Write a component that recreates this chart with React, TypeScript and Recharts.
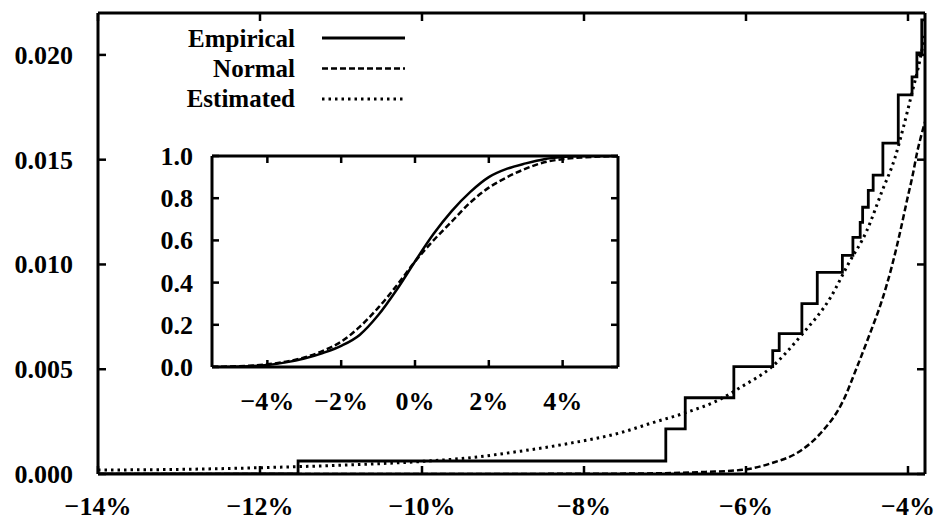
import React from 'react';
import { ComposedChart, LineChart, Line, XAxis, YAxis } from 'recharts';

const FONT = "'Liberation Serif', 'Times New Roman', serif";
const FS = 26;

// ---------- main chart ----------
const mainXTicks = [-14, -12, -10, -8, -6, -4];
const mainYTicks = [0, 0.005, 0.01, 0.015, 0.02];
const mainXDomain = [-14, -3.79];
const mainYDomain = [0, 0.022];

// Empirical (step function, left tail)
const empX = [-14, -11.53, -6.99, -6.75, -6.15, -5.67, -5.59, -5.31, -5.12, -4.81, -4.68, -4.59, -4.56, -4.49, -4.43, -4.31, -4.12, -3.95, -3.89, -3.83, -3.79];
const empY = [0, 0.00062, 0.00215, 0.00364, 0.00512, 0.00589, 0.0067, 0.00813, 0.00962, 0.01043, 0.01129, 0.01201, 0.01273, 0.01354, 0.01426, 0.01579, 0.01809, 0.01895, 0.0201, 0.02167, 0.02167];

// Normal
const normX = [-14, -10, -8, -7, -6.5, -6.04, -5.7, -5.33, -5.09, -4.8, -4.63, -4.47, -4.32, -4.2, -4.1, -4.01, -3.94, -3.89, -3.84, -3.79];
const normY = [0, 0, 0.00001, 0.00004, 0.0001, 0.0002, 0.0005, 0.0011, 0.0019, 0.0035, 0.0051, 0.0067, 0.0083, 0.0099, 0.0115, 0.0131, 0.0143, 0.0153, 0.0161, 0.0168];

// Estimated
const estX = [-14, -13, -12, -11, -10, -9.4, -8.8, -8.2, -7.56, -7.15, -6.75, -6.36, -6.04, -5.7, -5.3, -4.96, -4.74, -4.51, -4.32, -4.16, -4.06, -3.95, -3.85, -3.79];
const estY = [0.00019, 0.00022, 0.0003, 0.00042, 0.0006, 0.00078, 0.00108, 0.00145, 0.00196, 0.00245, 0.00292, 0.00349, 0.0042, 0.00505, 0.0067, 0.0084, 0.01, 0.0116, 0.0135, 0.0151, 0.0165, 0.0182, 0.0198, 0.021];

// ---------- inset chart ----------
const insetXTicks = [-4, -2, 0, 2, 4];
const insetYTicks = [0, 0.2, 0.4, 0.6, 0.8, 1.0];
const insetXDomain = [-5.5, 5.5];
const insetYDomain = [0, 1];
const inX = [-5.5, -4.5, -4, -3.5, -3, -2.5, -2, -1.5, -1, -0.5, 0, 0.5, 1, 1.5, 2, 2.5, 3, 3.5, 4, 4.5, 5.5];
const inEmp = [0, 0.004, 0.01, 0.022, 0.04, 0.066, 0.1, 0.152, 0.245, 0.365, 0.5, 0.63, 0.74, 0.83, 0.9, 0.94, 0.965, 0.985, 0.995, 1, 1];
const inNorm = [0.001, 0.006, 0.013, 0.025, 0.045, 0.076, 0.12, 0.19, 0.28, 0.385, 0.5, 0.6, 0.69, 0.78, 0.85, 0.9, 0.94, 0.97, 0.985, 0.993, 0.999];

const legendLabels = ['Empirical', 'Normal', 'Estimated'];

const zip = (xs: number[], ys: number[]) => xs.map((x, i) => ({ x, y: ys[i] }));
const empirical = zip(empX, empY);
const normal = zip(normX, normY);
const estimated = zip(estX, estY);
const insetEmp = zip(inX, inEmp);
const insetNorm = zip(inX, inNorm);

const fmtPct = (v: number) => (v < 0 ? '\u2212' : '') + Math.abs(v) + '%';
const fmt3 = (v: number) => v.toFixed(3);
const fmt1 = (v: number) => v.toFixed(1);

const AX = { stroke: '#000', strokeWidth: 3 };
const TICK_W = 2.5;

const txtStyle = { fontFamily: FONT, fontSize: FS, fontWeight: 'bold' as const, fill: '#000' };

function BottomTick(p: any) {
  const { x, y, payload, len, dy, fmt } = p;
  return (
    <g>
      <line x1={x} y1={y} x2={x} y2={y - len} stroke="#000" strokeWidth={TICK_W} />
      <text x={x} y={y + dy} textAnchor="middle" style={txtStyle}>{fmt(payload.value)}</text>
    </g>
  );
}
function TopTick(p: any) {
  const { x, y, len } = p;
  return <line x1={x} y1={y} x2={x} y2={y + len} stroke="#000" strokeWidth={TICK_W} />;
}
function LeftTick(p: any) {
  const { x, y, payload, len, dx, fmt } = p;
  return (
    <g>
      <line x1={x} y1={y} x2={x + len} y2={y} stroke="#000" strokeWidth={TICK_W} />
      <text x={x - dx} y={y + 9} textAnchor="end" style={txtStyle}>{fmt(payload.value)}</text>
    </g>
  );
}
function RightTick(p: any) {
  const { x, y, len } = p;
  return <line x1={x} y1={y} x2={x - len} y2={y} stroke="#000" strokeWidth={TICK_W} />;
}

const common = { tickSize: 0, tickMargin: 0, tickLine: false, axisLine: AX, interval: 0 as const, allowDataOverflow: true };

export default function App() {
  return (
    <div style={{ position: 'absolute', left: 0, top: 0, width: 940, height: 520, background: '#fff', overflow: 'hidden' }}>
      <ComposedChart width={940} height={520} margin={{ top: 12, right: 14, bottom: 0, left: 0 }}>
        <XAxis xAxisId="b" type="number" dataKey="x" domain={mainXDomain} ticks={mainXTicks} height={46} {...common}
          tick={(p: any) => <BottomTick {...p} len={8} dy={41} fmt={fmtPct} />} />
        <XAxis xAxisId="t" orientation="top" type="number" dataKey="x" domain={mainXDomain} ticks={mainXTicks} height={1} {...common}
          tick={(p: any) => <TopTick {...p} len={8} />} />
        <YAxis yAxisId="l" type="number" domain={mainYDomain} ticks={mainYTicks} width={98} {...common}
          tick={(p: any) => <LeftTick {...p} len={8} dx={25} fmt={fmt3} />} />
        <YAxis yAxisId="r" orientation="right" type="number" domain={mainYDomain} ticks={mainYTicks} width={1} {...common}
          tick={(p: any) => <RightTick {...p} len={8} />} />
        <Line xAxisId="t" yAxisId="r" data={estimated} dataKey="y" type="monotone" stroke="none" strokeWidth={0}
          dot={false} isAnimationActive={false} legendType="none" />
        <Line xAxisId="b" yAxisId="l" data={estimated} dataKey="y" type="monotone" stroke="#000" strokeWidth={3}
          strokeDasharray="2.5 4" dot={false} isAnimationActive={false} />
        <Line xAxisId="b" yAxisId="l" data={normal} dataKey="y" type="monotone" stroke="#000" strokeWidth={2.5}
          strokeDasharray="6 3" dot={false} isAnimationActive={false} />
        <Line xAxisId="b" yAxisId="l" data={empirical} dataKey="y" type="stepAfter" stroke="#000" strokeWidth={2.8}
          dot={false} isAnimationActive={false} />
      </ComposedChart>

      <svg width={940} height={520} style={{ position: 'absolute', left: 0, top: 0, pointerEvents: 'none' }}>
        {legendLabels.map((lab, i) => (
          <g key={lab}>
            <text x={295} y={47 + i * 30} textAnchor="end" style={{ ...txtStyle, fontSize: 25 }}>{lab}</text>
            <line x1={322} x2={405} y1={38 + i * 30.5} y2={38 + i * 30.5} stroke="#000"
              strokeWidth={i === 0 ? 2.8 : i === 1 ? 2.5 : 3}
              strokeDasharray={i === 0 ? undefined : i === 1 ? '6 3' : '2.5 4'} />
          </g>
        ))}
      </svg>

      <div style={{ position: 'absolute', left: 140, top: 140, width: 490, height: 290 }}>
        <LineChart width={490} height={290} margin={{ top: 15, right: 11, bottom: 0, left: 0 }}>
          <XAxis xAxisId="b" type="number" dataKey="x" domain={insetXDomain} ticks={insetXTicks} height={63} {...common}
            tick={(p: any) => <BottomTick {...p} len={7} dy={43} fmt={fmtPct} />} />
          <XAxis xAxisId="t" orientation="top" type="number" dataKey="x" domain={insetXDomain} ticks={insetXTicks} height={1} {...common}
            tick={(p: any) => <TopTick {...p} len={7} />} />
          <YAxis yAxisId="l" type="number" domain={insetYDomain} ticks={insetYTicks} width={72} {...common}
            tick={(p: any) => <LeftTick {...p} len={7} dx={19} fmt={fmt1} />} />
          <YAxis yAxisId="r" orientation="right" type="number" domain={insetYDomain} ticks={insetYTicks} width={1} {...common}
            tick={(p: any) => <RightTick {...p} len={7} />} />
          <Line xAxisId="t" yAxisId="r" data={insetNorm} dataKey="y" type="monotone" stroke="none" strokeWidth={0}
            dot={false} isAnimationActive={false} legendType="none" />
          <Line xAxisId="b" yAxisId="l" data={insetNorm} dataKey="y" type="monotone" stroke="#000" strokeWidth={2.5}
            strokeDasharray="6 3" dot={false} isAnimationActive={false} />
          <Line xAxisId="b" yAxisId="l" data={insetEmp} dataKey="y" type="monotone" stroke="#000" strokeWidth={2.5}
            dot={false} isAnimationActive={false} />
        </LineChart>
      </div>
    </div>
  );
}
